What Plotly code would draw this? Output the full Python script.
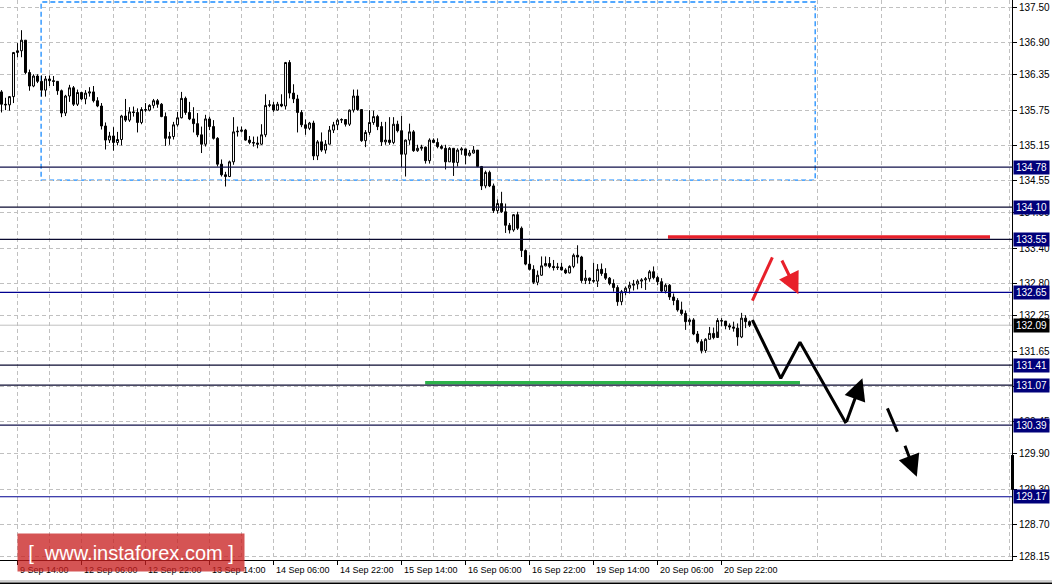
import plotly.graph_objects as go

# ---------------- data (H1 bars, bar index = position on time axis) ----------------
first_open = 136.06
closes = [135.85,135.84,135.98,136.73,136.76,136.94,136.39,136.16,136.33,136.24,
          136.09,136.28,136.25,136.24,136.08,135.70,135.99,136.13,135.85,136.05,
          135.94,136.04,136.06,135.91,135.82,135.48,135.24,135.31,135.20,135.25,
          135.65,135.58,135.72,135.71,135.54,135.76,135.75,135.83,135.91,135.85,
          135.64,135.27,135.30,135.50,135.62,135.95,135.71,135.60,135.52,135.33,
          135.17,135.60,135.47,135.27,134.83,134.65,134.62,134.87,135.38,135.39,
          135.41,135.24,135.20,135.19,135.17,135.33,135.83,135.84,135.75,135.85,
          135.82,136.56,136.04,135.94,135.71,135.50,135.44,135.53,134.97,135.21,
          135.07,135.17,135.41,135.50,135.58,135.59,135.51,135.75,135.99,135.76,
          135.23,135.37,135.54,135.64,135.47,135.21,135.24,135.20,135.51,135.40,
          135.00,135.24,135.38,135.06,135.10,135.12,134.89,135.24,135.20,135.13,
          135.10,134.87,135.10,134.86,135.07,135.09,134.98,135.02,135.07,134.79,
          134.46,134.69,134.46,134.04,134.16,134.02,133.79,133.71,133.97,133.74,
          133.36,133.13,133.04,132.82,132.94,133.10,133.14,133.09,133.07,133.08,
          133.03,132.98,133.09,133.28,133.25,132.85,132.89,132.85,132.84,133.04,
          132.97,132.89,132.80,132.73,132.49,132.66,132.72,132.77,132.79,132.84,
          132.86,132.88,133.00,132.90,132.83,132.67,132.77,132.57,132.51,132.35,
          132.29,132.15,132.18,131.94,131.81,131.66,131.85,131.95,131.88,132.17,
          132.16,132.08,132.06,132.04,131.89,132.21,132.15,132.09]
highs = [136.09,135.96,135.99,136.74,136.89,137.11,136.94,136.44,136.36,136.36,
         136.34,136.33,136.34,136.33,136.18,136.10,136.01,136.18,136.16,136.10,
         136.06,136.09,136.14,136.16,135.97,135.87,135.54,135.38,135.46,135.38,
         135.67,135.94,135.80,135.81,135.78,135.80,135.87,135.85,135.94,135.94,
         135.87,135.71,135.38,135.55,135.72,136.06,135.98,135.89,135.80,135.70,
         135.47,135.67,135.64,135.58,135.29,134.91,134.70,134.89,135.63,135.47,
         135.47,135.43,135.31,135.30,135.30,135.51,136.02,135.92,135.89,135.89,
         136.02,136.57,136.60,136.19,136.01,135.75,135.59,135.55,135.57,135.24,
         135.37,135.24,135.48,135.55,135.61,135.61,135.59,135.76,136.10,136.10,
         135.76,135.41,135.75,135.74,135.67,135.55,135.55,135.63,135.63,135.57,
         135.65,135.25,135.52,135.41,135.16,135.16,135.13,135.27,135.27,135.27,
         135.16,135.16,135.12,135.10,135.10,135.12,135.06,135.07,135.14,135.07,
         134.80,134.72,134.72,134.50,134.23,134.36,134.16,133.83,133.98,134.02,
         133.77,133.38,133.28,133.11,133.02,133.26,133.26,133.25,133.20,133.15,
         133.15,133.06,133.11,133.31,133.45,133.27,133.03,132.90,133.15,133.13,
         133.14,133.06,132.91,132.87,132.77,132.69,132.75,132.83,132.86,132.87,
         132.89,132.91,133.03,133.09,132.93,132.89,132.80,132.79,132.63,132.55,
         132.49,132.34,132.21,132.21,131.99,131.85,131.87,132.06,132.05,132.21,
         132.21,132.13,132.12,132.15,132.12,132.30,132.26,132.17]
lows = [135.71,135.75,135.74,135.87,136.65,136.65,136.36,136.08,136.14,136.21,
        135.98,135.98,136.16,136.16,136.01,135.63,135.65,135.89,135.82,135.82,
        135.92,135.85,135.98,135.88,135.80,135.42,135.08,135.19,135.06,135.15,
        135.15,135.55,135.55,135.64,135.37,135.51,135.72,135.73,135.78,135.79,
        135.63,135.14,135.16,135.25,135.47,135.61,135.67,135.58,135.37,135.29,
        135.02,135.13,135.41,135.25,134.79,134.62,134.45,134.61,134.82,135.30,
        135.37,135.23,135.17,135.13,135.10,135.16,135.29,135.80,135.72,135.74,
        135.80,135.76,135.95,135.87,135.37,135.46,135.33,135.41,134.90,134.90,
        135.04,135.01,135.17,135.36,135.41,135.53,135.47,135.48,135.71,135.74,
        135.21,135.12,135.33,135.50,135.41,135.14,135.16,135.16,135.17,135.37,
        134.78,134.62,135.16,135.04,135.04,135.06,134.84,134.84,135.19,135.10,
        135.08,134.74,134.87,134.63,134.79,134.99,134.83,134.96,135.01,134.78,
        134.39,134.42,134.44,134.00,133.99,134.00,133.66,133.65,133.68,133.71,
        133.25,133.11,133.02,132.79,132.77,132.93,133.09,133.06,133.02,133.03,
        133.02,132.96,132.97,133.06,133.14,132.81,132.79,132.79,132.81,132.74,
        132.93,132.86,132.77,132.66,132.42,132.43,132.60,132.63,132.68,132.70,
        132.72,132.69,132.83,132.87,132.77,132.64,132.63,132.52,132.43,132.32,
        132.26,132.01,132.09,131.92,131.78,131.61,131.62,131.85,131.85,131.98,
        132.07,132.02,132.01,131.98,131.74,131.87,132.04,132.06]

time_tick_index = [4, 20, 36, 52, 68, 84, 100, 116, 132, 148, 164, 180]
time_tick_text = ["9 Sep 14:00", "12 Sep 06:00", "12 Sep 22:00", "13 Sep 14:00",
                  "14 Sep 06:00", "14 Sep 22:00", "15 Sep 14:00", "16 Sep 06:00",
                  "16 Sep 22:00", "19 Sep 14:00", "20 Sep 06:00", "20 Sep 22:00"]
price_ticks = [137.50, 136.90, 136.35, 135.75, 135.15, 134.55, 134.00, 133.40, 132.80,
               132.25, 131.65, 131.05, 130.45, 129.90, 129.30, 128.70, 128.15]

level_prices = [134.78, 134.10, 133.55, 132.65, 131.41, 131.07, 130.39, 129.17]
level_line_colors = ["#10104a", "#0a0a30", "#0a0a30", "#000090",
                     "#0a0a30", "#0a0a30", "#10104a", "#000090"]
current_price = 132.09

# drawn analysis objects (bar index, price)
box_region_x = [9.9, 203.4]
box_region_y = [134.56, 137.59]
red_level_x = [166.6, 247.1]
red_level_y = [133.59, 133.59]
green_level_x = [105.9, 199.6]
green_level_y = [131.11, 131.11]
red_up_x = [187.7, 192.7]
red_up_y = [132.507, 133.245]
red_arrow_from = (194.9, 133.216)
red_arrow_to = (199.2, 132.615)
zigzag_x = [187.7, 194.8, 199.6, 211.1]
zigzag_y = [132.178, 131.186, 131.799, 130.42]
zigzag_arrow_to = (215.2, 131.186)
dash_x = [221.45, 223.95]
dash_y = [130.675, 130.277]
dash_arrow_from = (225.7, 130.063)
dash_arrow_to = (228.8, 129.511)

# ---------------- figure ----------------
idx = list(range(len(closes)))
opens = [first_open] + closes[:-1]

FONT = "Liberation Sans, Arial, sans-serif"
NAVY = "#00007a"
GRID_DASH = "4px,3px"
ARROW_SIZE = 1.45

fig = go.Figure()
fig.add_trace(go.Candlestick(
    x=idx, open=opens, high=highs, low=lows, close=closes,
    increasing=dict(line=dict(color="black", width=1), fillcolor="white"),
    decreasing=dict(line=dict(color="black", width=1), fillcolor="black"),
    whiskerwidth=0, hoverinfo="skip", showlegend=False))

# drawn lines
fig.add_trace(go.Scatter(x=red_level_x, y=red_level_y, mode="lines",
                         line=dict(color="#e8202a", width=3.5), hoverinfo="skip"))
fig.add_trace(go.Scatter(x=green_level_x, y=green_level_y, mode="lines",
                         line=dict(color="#2cb34a", width=3.5), hoverinfo="skip"))
fig.add_trace(go.Scatter(x=red_up_x, y=red_up_y, mode="lines",
                         line=dict(color="#e8202a", width=3), hoverinfo="skip"))
fig.add_trace(go.Scatter(x=zigzag_x, y=zigzag_y, mode="lines",
                         line=dict(color="black", width=3), hoverinfo="skip"))
fig.add_trace(go.Scatter(x=dash_x, y=dash_y, mode="lines",
                         line=dict(color="black", width=3), hoverinfo="skip"))

shapes = []
# blue dashed region
shapes.append(dict(type="rect", xref="x", yref="y", x0=box_region_x[0], x1=box_region_x[1],
                   y0=box_region_y[0], y1=box_region_y[1],
                   line=dict(color="#1a8cff", width=1.3, dash="5px,3px"), layer="below"))
# current bid line
shapes.append(dict(type="line", xref="paper", yref="y", x0=0, x1=1, y0=current_price,
                   y1=current_price, line=dict(color="#c0c0c0", width=1), layer="below"))
for p, c in zip(level_prices, level_line_colors):
    shapes.append(dict(type="line", xref="paper", yref="y", x0=0, x1=1, y0=p, y1=p,
                       line=dict(color=c, width=1.2), layer="above"))
# marker on price scale
shapes.append(dict(type="rect", xref="paper", yref="y", xsizemode="pixel", xanchor=1,
                   x0=-1, x1=2, y0=129.29, y1=129.88, fillcolor="black",
                   line=dict(width=0)))
# window borders below the time scale
shapes.append(dict(type="line", xref="paper", yref="paper", x0=0, x1=1.04,
                   y0=-0.0375, y1=-0.0375, line=dict(color="#a0a0a0", width=1)))
shapes.append(dict(type="line", xref="paper", yref="paper", x0=0, x1=1.04,
                   y0=-0.0415, y1=-0.0415, line=dict(color="black", width=1.5)))

annotations = []
for p in level_prices:
    annotations.append(dict(x=1, xref="paper", y=p, yref="y", xanchor="left",
                            yanchor="middle", xshift=1, text=f"{p:.2f}", showarrow=False,
                            font=dict(family=FONT, size=10, color="white"),
                            bgcolor=NAVY, width=35, height=13, borderpad=0))
annotations.append(dict(x=1, xref="paper", y=current_price, yref="y", xanchor="left",
                        yanchor="middle", xshift=1, text=f"{current_price:.2f}",
                        showarrow=False, font=dict(family=FONT, size=10, color="white"),
                        bgcolor="black", width=35, height=13, borderpad=0))
for t, s in zip(time_tick_index, time_tick_text):
    annotations.append(dict(x=t, xref="x", y=0, yref="paper", xanchor="left",
                            yanchor="top", xshift=0, yshift=-3, text=s, showarrow=False,
                            font=dict(family=FONT, size=9, color="black")))
# arrows
annotations.append(dict(x=zigzag_arrow_to[0], y=zigzag_arrow_to[1], xref="x", yref="y",
                        ax=zigzag_x[-1], ay=zigzag_y[-1], axref="x", ayref="y", text="",
                        showarrow=True, arrowhead=2, arrowsize=ARROW_SIZE, arrowwidth=3,
                        arrowcolor="black"))
annotations.append(dict(x=red_arrow_to[0], y=red_arrow_to[1], xref="x", yref="y",
                        ax=red_arrow_from[0], ay=red_arrow_from[1], axref="x", ayref="y",
                        text="", showarrow=True, arrowhead=2, arrowsize=ARROW_SIZE,
                        arrowwidth=3, arrowcolor="#e8202a"))
annotations.append(dict(x=dash_arrow_to[0], y=dash_arrow_to[1], xref="x", yref="y",
                        ax=dash_arrow_from[0], ay=dash_arrow_from[1], axref="x", ayref="y",
                        text="", showarrow=True, arrowhead=2, arrowsize=ARROW_SIZE,
                        arrowwidth=3, arrowcolor="black"))
# watermark
annotations.append(dict(x=17 / 1012, xref="paper", y=(560 - 533) / 560, yref="paper",
                        xanchor="left", yanchor="top", text="[  www.instaforex.com ]",
                        showarrow=False, font=dict(family=FONT, size=20, color="white"),
                        bgcolor="rgba(200,30,30,0.76)", width=226, height=37,
                        borderpad=0))

fig.update_layout(
    width=1052, height=584,
    margin=dict(l=0, r=40, t=0, b=24),
    paper_bgcolor="white", plot_bgcolor="white",
    showlegend=False, hovermode=False,
    font=dict(family=FONT, size=9, color="black"),
    shapes=shapes, annotations=annotations,
    xaxis=dict(range=[-0.375, 252.6], rangeslider=dict(visible=False),
               tickmode="array", tickvals=time_tick_index, showticklabels=False,
               ticks="outside", ticklen=4, tickcolor="black",
               showgrid=True, gridcolor="#c0c0c0", griddash=GRID_DASH, gridwidth=1,
               minor=dict(tickmode="linear", tick0=12, dtick=16, showgrid=True,
                          gridcolor="#c0c0c0", griddash=GRID_DASH, ticks=""),
               showline=True, linecolor="black", linewidth=1, zeroline=False,
               fixedrange=True),
    yaxis=dict(range=[128.094, 137.624], side="right", tickmode="array",
               tickvals=price_ticks, ticktext=[f"{v:.2f}" for v in price_ticks],
               ticks="outside", ticklen=4, tickcolor="black",
               tickfont=dict(family=FONT, size=10, color="black"),
               showgrid=True, gridcolor="#c0c0c0", griddash=GRID_DASH, gridwidth=1,
               showline=True, linecolor="black", linewidth=1, zeroline=False,
               fixedrange=True),
)

fig.write_html("out.html", config={"displayModeBar": False},
               post_script="document.body.style.margin='0';document.body.style.overflow='hidden';")
